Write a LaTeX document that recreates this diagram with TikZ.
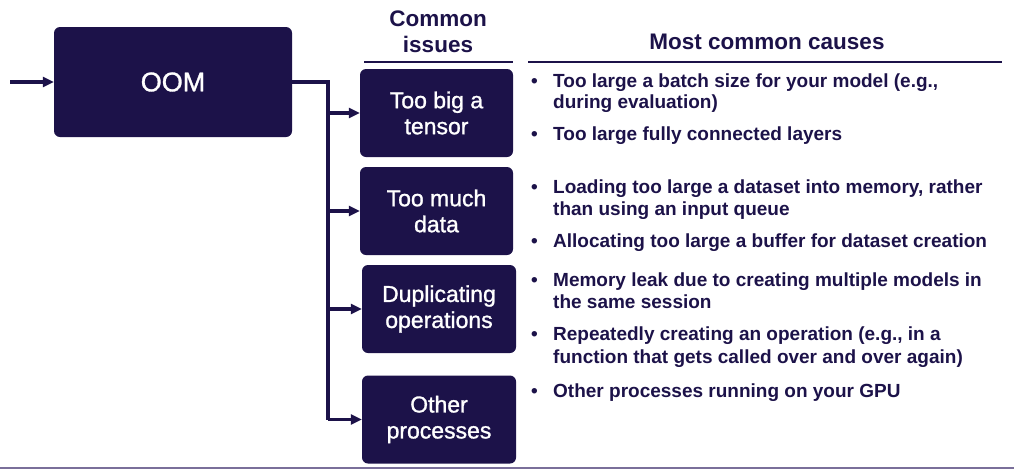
\documentclass[tikz,border=0pt]{standalone}
\usepackage{fontspec}
\setmainfont{Liberation Sans}
\newfontfamily\medfont[FakeBold=1.2]{Liberation Sans}
\usetikzlibrary{arrows.meta}
\definecolor{navy}{HTML}{1C1249}
\definecolor{rule}{HTML}{7A6F9A}
\tikzset{
  box/.style={fill=navy, rounded corners=6pt, text=white, align=center, inner sep=0pt,
    font=\medfont\fontsize{23}{26}\selectfont},
  conn/.style={draw=navy, line width=3.5pt, -{Triangle[length=11pt,width=10pt]}},
  wire/.style={draw=navy, line width=3.5pt},
  hdr/.style={text=navy, font=\bfseries\fontsize{22.5}{26}\selectfont, anchor=base, inner sep=0pt},
  bul/.style={text=navy, font=\bfseries\fontsize{19}{22}\selectfont, anchor=base west, inner sep=0pt},
  hrule/.style={draw=navy, line width=2.6pt}
}
\begin{document}
\begin{tikzpicture}[x=1pt,y=-1pt]
\useasboundingbox (0,0) rectangle (1014,469);
% boxes
\node[box, minimum width=238pt, minimum height=110pt, font=\medfont\fontsize{27}{30}\selectfont] (oom) at (173,82) {OOM};
\node[box, minimum width=153pt, minimum height=88pt] (b1) at (436.5,113) {Too big a\\tensor};
\node[box, minimum width=153pt, minimum height=88pt] (b2) at (436.5,211) {Too much\\data};
\node[box, minimum width=154pt, minimum height=88pt] (b3) at (439,309) {Duplicating\\operations};
\node[box, minimum width=154pt, minimum height=88pt] (b4) at (439,419.5) {Other\\processes};
% input arrow
\coordinate (in) at (10,82);
\draw[conn] (in) -- (oom.west);
% tree
\coordinate (junc) at (328,82);
\coordinate (bot) at (328,421);
\draw[wire] (oom.east) -- (junc) -- (bot |- b4.west);
\draw[conn] (junc |- b1.west) -- (b1.west);
\draw[conn] (junc |- b2.west) -- (b2.west);
\draw[conn] (junc |- b3.west) -- (b3.west);
\draw[conn] (bot |- b4.west) -- (b4.west);
% headers
\node[hdr] (h1a) at (438,26) {Common};
\node[hdr] (h1b) at (438,52) {issues};
\node[hdr] (h2) at (767,49) {Most common causes};
\coordinate (r1a) at (364,62); \coordinate (r1b) at (513,62);
\coordinate (r2a) at (528,62); \coordinate (r2b) at (1002,62);
\draw[hrule] (r1a) -- (r1b);
\draw[hrule] (r2a) -- (r2b);
% bullets
\foreach \y in {87,140,193,247,286,340,397}
  \node[bul] at (531,\y) {•};
\node[bul] (t1a) at (553,87) {Too large a batch size for your model (e.g.,};
\node[bul] (t1b) at (553,108) {during evaluation)};
\node[bul] (t2) at (553,140) {Too large fully connected layers};
\node[bul] (t3a) at (553,193) {Loading too large a dataset into memory, rather};
\node[bul] (t3b) at (553,215) {than using an input queue};
\node[bul] (t4) at (553,247) {Allocating too large a buffer for dataset creation};
\node[bul] (t5a) at (553,286) {Memory leak due to creating multiple models in};
\node[bul] (t5b) at (553,308) {the same session};
\node[bul] (t6a) at (553,340) {Repeatedly creating an operation (e.g., in a};
\node[bul] (t6b) at (553,363) {function that gets called over and over again)};
\node[bul] (t7) at (553,397) {Other processes running on your GPU};
% bottom rule
\coordinate (bl) at (0,467.5); \coordinate (br) at (1014,467.5);
\draw[draw=rule, line width=2pt] (bl) -- (br);
\end{tikzpicture}
\end{document}
